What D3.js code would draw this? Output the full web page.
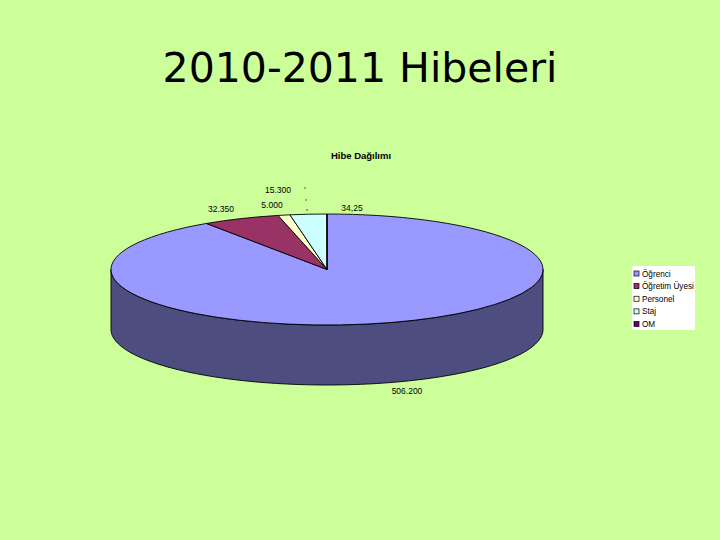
<!DOCTYPE html>
<html lang="tr">
<head>
  <meta charset="UTF-8">
  <title>2010-2011 Hibeleri</title>
  <script src="https://d3js.org/d3.v7.min.js"></script>
  <style>
    html, body { margin: 0; padding: 0; background: #ccff99; }
    svg { display: block; }
    text { fill: #000; font-family: "Liberation Sans", Arial, sans-serif; }
  </style>
</head>
<body>
  <div id="chart"></div>
  <script>
    // Hibe dagilimi degerleri
    const categories = ["Öğrenci", "Öğretim Üyesi", "Personel", "Staj", "OM"];
    const values = [506200, 32350, 5000, 15300, 34.25];
    const valueLabels = ["506.200", "32.350", "5.000", "15.300", "34,25"];
    const colors = ["#9999ff", "#993366", "#ffffcc", "#ccffff", "#660066"];

    const width = 720, height = 540;
    const cx = 327, cy = 269.5, rx = 216, ry = 55.5, depth = 60;

    // hand placed value labels, same order as valueLabels
    const labelAt = [[407, 391], [221, 209], [272, 205], [278, 190], [352, 208]];

    const svg = d3.select("#chart").append("svg")
      .attr("width", width)
      .attr("height", height);

    svg.append("text")
      .attr("x", 360)
      .attr("y", 82)
      .attr("text-anchor", "middle")
      .style("font-family", "'DejaVu Sans', sans-serif")
      .style("font-size", "41px")
      .text("2010-2011 Hibeleri");

    svg.append("text")
      .attr("x", 361)
      .attr("y", 159)
      .attr("text-anchor", "middle")
      .style("font-size", "9.5px")
      .style("font-weight", "bold")
      .text("Hibe Dağılımı");

    // unit circle to ellipse
    const x = d3.scaleLinear().domain([-1, 1]).range([cx - rx, cx + rx]);
    const y = d3.scaleLinear().domain([-1, 1]).range([cy - ry, cy + ry]);

    const pie = d3.pie().sort(null).value(d => d)(values);

    // front wall of the disc, only the first slice shows there
    const front = d3.range(Math.PI / 2, Math.PI * 1.5 + 0.001, Math.PI / 120);
    const wall = d3.area()
      .x(a => x(Math.sin(a)))
      .y0(a => y(-Math.cos(a)))
      .y1(a => y(-Math.cos(a)) + depth);

    svg.append("path")
      .attr("d", wall(front))
      .attr("fill", "#4d4d80")
      .attr("stroke", "#000")
      .attr("stroke-width", 0.9);

    // slices
    const arc = d3.arc().innerRadius(0).outerRadius(rx);
    svg.append("g")
      .attr("transform", `translate(${cx},${cy}) scale(1,${ry / rx})`)
      .selectAll("path")
      .data(pie)
      .enter()
      .append("path")
      .attr("d", arc)
      .attr("fill", (d, i) => colors[i])
      .attr("stroke", "#000")
      .attr("stroke-width", 0.9)
      .attr("vector-effect", "non-scaling-stroke");

    // value labels
    svg.append("g")
      .selectAll("text")
      .data(valueLabels)
      .enter()
      .append("text")
      .attr("x", (d, i) => labelAt[i][0])
      .attr("y", (d, i) => labelAt[i][1] + 3)
      .attr("text-anchor", "middle")
      .style("font-size", "8.5px")
      .text(d => d);

    // leader of the OM slice, only a few dots are left of it
    svg.append("g")
      .selectAll("circle")
      .data([188, 200, 210])
      .enter()
      .append("circle")
      .attr("cx", d => 305 + (d - 188) * 0.09)
      .attr("cy", d => d)
      .attr("r", 0.7)
      .attr("fill", "#222");

    // legend
    const legendTop = 266, legendLeft = 632;
    const legendY = d3.scalePoint().domain(categories).range([legendTop + 7.5, legendTop + 58]);

    svg.append("rect")
      .attr("x", legendLeft)
      .attr("y", legendTop)
      .attr("width", 63)
      .attr("height", 64)
      .attr("fill", "#fff");

    const legend = svg.append("g")
      .selectAll("g")
      .data(categories)
      .enter()
      .append("g")
      .attr("transform", d => `translate(${legendLeft},${legendY(d)})`);

    legend.append("rect")
      .attr("x", 2)
      .attr("y", -2.5)
      .attr("width", 5)
      .attr("height", 5)
      .attr("fill", (d, i) => colors[i])
      .attr("stroke", "#000")
      .attr("stroke-width", 0.7);

    legend.append("text")
      .attr("x", 10)
      .attr("y", 3)
      .style("font-size", "8.2px")
      .text(d => d);
  </script>
</body>
</html>
